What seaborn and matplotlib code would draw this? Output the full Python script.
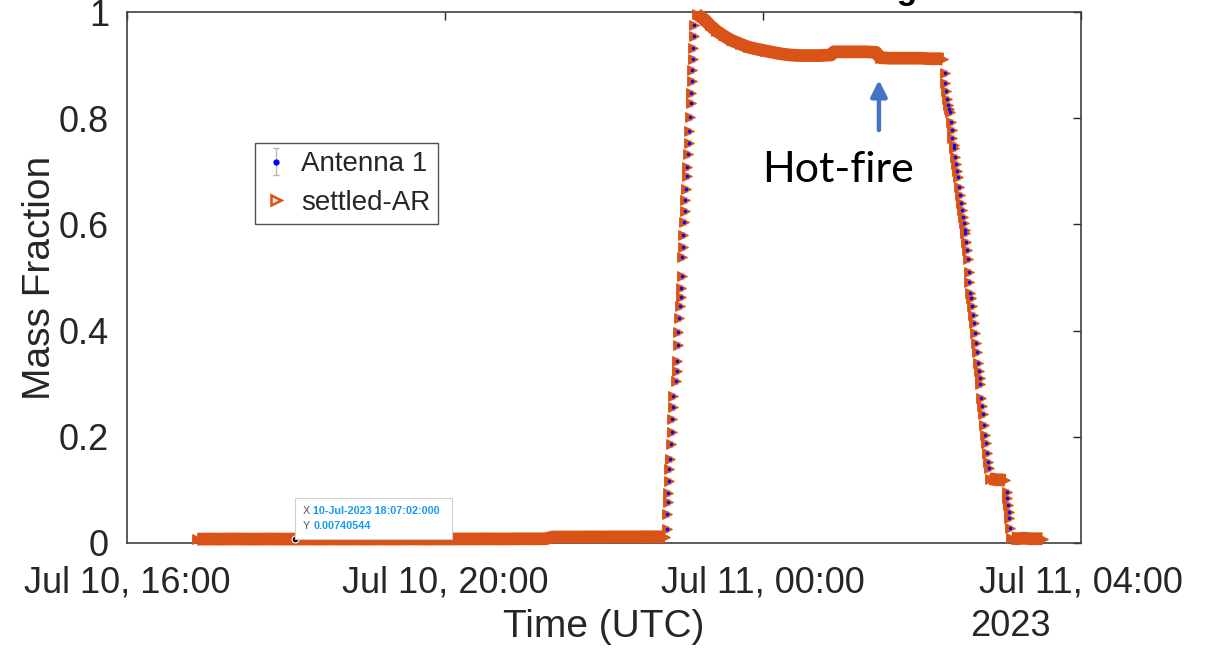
import numpy as np
import pandas as pd
import matplotlib
matplotlib.use("Agg")
import matplotlib.pyplot as plt
import matplotlib.dates as mdates
from matplotlib.patches import Rectangle
from matplotlib.lines import Line2D
import seaborn as sns

sns.set_theme(style="white")
plt.rcParams["font.family"] = ["Liberation Sans", "DejaVu Sans"]

ORANGE = "#D95319"
BLUE = "#0000FF"
AXIS_GREY = "#404040"

START = pd.Timestamp("2023-07-10 16:00:00")

# ---- readings, time in minutes after 10-Jul-2023 16:00 UTC ----
baseline_min = [53, 62, 71, 80, 89, 98, 107, 116, 127.033, 136, 145, 154, 163, 172,
                181, 190, 199, 208, 217, 226, 235, 244, 253, 262, 271, 280, 289, 298,
                307, 316, 321, 330, 340, 350, 360, 370, 380, 390, 400, 406]
baseline_val = [0.0072, 0.0075, 0.0073, 0.0076, 0.0074, 0.0073, 0.0075, 0.0074, 0.00740544,
                0.0075, 0.0073, 0.0076, 0.0074, 0.0075, 0.0073, 0.0076, 0.0074, 0.0075,
                0.0077, 0.0074, 0.0076, 0.0075, 0.0077, 0.0076, 0.0078, 0.0076, 0.0077,
                0.0079, 0.0078, 0.0080, 0.0112, 0.0114, 0.0113, 0.0115, 0.0114, 0.0116,
                0.0115, 0.0117, 0.0116, 0.0118]

fill_min = [407.2, 407.6, 408.1, 408.6, 409.0, 409.4, 409.9, 410.5, 411.1, 411.6, 412.0,
            412.4, 414.6, 415.0, 415.4, 415.8, 416.2, 416.7, 417.3, 417.8, 418.2, 418.6,
            419.0, 419.5, 419.9, 420.4, 421.0, 421.5, 421.9, 422.4, 422.8, 423.6, 424.0,
            424.4, 424.8, 425.4, 425.8, 426.3, 426.7, 427.1, 427.5, 427.9, 428.3]
fill_val = [0.026, 0.055, 0.077, 0.094, 0.117, 0.139, 0.158, 0.186, 0.209, 0.234, 0.256,
            0.277, 0.305, 0.324, 0.343, 0.373, 0.397, 0.424, 0.446, 0.463, 0.480, 0.503,
            0.539, 0.557, 0.580, 0.605, 0.625, 0.646, 0.667, 0.691, 0.708, 0.733, 0.753,
            0.776, 0.802, 0.829, 0.847, 0.870, 0.891, 0.911, 0.932, 0.955, 0.976]

full_min = [430.0, 436.2, 440.0, 444.5, 449.8, 455.8, 462.6, 468.7, 475.5, 481.5, 487.5,
            494.3, 500.4, 508.3, 515.5, 523.0, 531.3, 533.6, 541.9, 549.4, 557.7, 565.3,
            568.3, 575.8, 583.4, 590.9, 598.5, 606.0, 613.6, 616.0]
full_val = [0.996, 0.985, 0.975, 0.965, 0.956, 0.947, 0.940, 0.934, 0.930, 0.927, 0.924,
            0.921, 0.919, 0.918, 0.918, 0.918, 0.919, 0.925, 0.925, 0.925, 0.925, 0.924,
            0.914, 0.913, 0.913, 0.913, 0.913, 0.912, 0.912, 0.911]

drain_min = [617.0, 617.6, 618.2, 618.8, 619.6, 620.2, 620.8, 621.6, 622.3, 623.0, 623.8,
             624.3, 625.2, 625.9, 626.6, 627.3, 628.0, 628.7, 629.4, 630.1, 630.8, 631.5,
             632.2, 632.7, 633.5, 634.2, 634.9, 635.3, 635.7, 636.4, 637.1, 637.8, 638.5,
             639.2, 639.9, 640.6, 641.3, 642.0, 642.7, 643.4, 644.1, 644.8, 645.5, 646.2,
             646.9, 647.6, 648.3, 649.0, 649.7, 650.4]
drain_val = [0.885, 0.866, 0.851, 0.836, 0.824, 0.818, 0.812, 0.793, 0.778, 0.763, 0.750,
             0.744, 0.727, 0.714, 0.701, 0.689, 0.670, 0.655, 0.640, 0.627, 0.614, 0.603,
             0.590, 0.584, 0.567, 0.552, 0.535, 0.510, 0.492, 0.471, 0.461, 0.446, 0.429,
             0.414, 0.395, 0.377, 0.360, 0.339, 0.324, 0.311, 0.299, 0.273, 0.258, 0.243,
             0.222, 0.203, 0.188, 0.169, 0.153, 0.141]

hold_min = [651.0, 654.0, 657.0, 660.0, 663.0]
hold_val = [0.121, 0.120, 0.119, 0.119, 0.118]

drain2_min = [663.8, 664.3, 664.8, 665.3, 665.8, 666.3]
drain2_val = [0.096, 0.085, 0.072, 0.058, 0.047, 0.028]

empty_min = [667.5, 672.0, 677.0, 682.0, 687.0, 691.0]
empty_val = [0.009, 0.008, 0.009, 0.008, 0.008, 0.008]

x_tick_hours = [0, 4, 8, 12]
x_tick_labels = ["Jul 10, 16:00", "Jul 10, 20:00", "Jul 11, 00:00", "Jul 11, 04:00"]
y_ticks = [0, 0.2, 0.4, 0.6, 0.8, 1.0]
y_tick_labels = ["0", "0.2", "0.4", "0.6", "0.8", "1"]

tip_time = pd.Timestamp("2023-07-10 18:07:02")
tip_value = 0.00740544
hotfire_time = START + pd.Timedelta(minutes=567.5)

# ---- assemble tidy frame ----
phases = [
    ("baseline", baseline_min, baseline_val, True),
    ("fill", fill_min, fill_val, False),
    ("full", full_min, full_val, True),
    ("drain", drain_min, drain_val, False),
    ("hold", hold_min, hold_val, True),
    ("drain2", drain2_min, drain2_val, False),
    ("empty", empty_min, empty_val, True),
]
frames = []
for name, mins, vals, steady in phases:
    frames.append(pd.DataFrame({
        "time": START + pd.to_timedelta(np.asarray(mins, dtype=float), unit="m"),
        "value": vals,
        "phase": name,
        "steady": steady,
    }))
df = pd.concat(frames, ignore_index=True)
steady_df = df[df["steady"]]
antenna = df[~df["steady"]]

W, H = 1211, 649
fig = plt.figure(figsize=(W / 100, H / 100), dpi=100)
ax = fig.add_axes([127 / W, 106 / H, 954 / W, 531 / H])

# dense settled segments appear as a solid band
sns.lineplot(data=steady_df, x="time", y="value", units="phase", estimator=None,
             color=ORANGE, linewidth=9.2, solid_capstyle="butt", sort=False,
             ax=ax, legend=False, zorder=3, clip_on=False)

# Antenna 1 error bars
ax.errorbar(antenna["time"], antenna["value"], yerr=0.006, fmt="none",
            ecolor="#c4c4c4", elinewidth=0.8, capsize=1.5, zorder=2)

# settled-AR markers
sns.scatterplot(data=df, x="time", y="value", marker=">", s=48, color=ORANGE,
                edgecolor=ORANGE, linewidth=0.8, ax=ax, legend=False, zorder=4,
                clip_on=False)

# Antenna 1 points
sns.scatterplot(data=antenna, x="time", y="value", marker="o", s=6, color=BLUE,
                linewidth=0, ax=ax, legend=False, zorder=5)

ax.set_xlim(START, START + pd.Timedelta(hours=12))
ax.set_ylim(0, 1)
ax.set_xticks([START + pd.Timedelta(hours=h) for h in x_tick_hours])
ax.set_xticklabels(x_tick_labels)
ax.set_yticks(y_ticks)
ax.set_yticklabels(y_tick_labels)

ax.tick_params(axis="both", direction="in", length=6, width=1.0, colors="#262626",
               labelsize=26, top=True, right=True)
ax.tick_params(axis="x", pad=16)
ax.tick_params(axis="y", pad=13)
for sp in ax.spines.values():
    sp.set_color(AXIS_GREY)
    sp.set_linewidth(1.2)

ax.set_xlabel("Time (UTC)", fontsize=28, color="#262626")
ax.xaxis.set_label_coords(0.5, (543 - 627) / 531)
ax.xaxis.label.set_va("center")
ax.set_ylabel("Mass Fraction", fontsize=28, color="#262626")
ax.yaxis.set_label_coords((40 - 127) / 954, 0.5)
ax.yaxis.label.set_va("center")

fig.text(1010 / W, 1 - 627 / H, "2023", fontsize=26, color="#262626",
         ha="center", va="center")

# legend
eb_handle = ax.errorbar([START], [np.nan], yerr=[0.01], fmt="o", ms=3.5, color=BLUE,
                        ecolor="#b8b8b8", elinewidth=1, capsize=2)
ar_handle = Line2D([], [], marker=">", ls="none", ms=7, mfc="#fbe3d8", mec=ORANGE,
                   mew=1.8)
leg = ax.legend([eb_handle, ar_handle], ["Antenna 1", "settled-AR"],
                loc="upper left", bbox_to_anchor=(255 / W, 1 - 143 / H),
                bbox_transform=fig.transFigure, borderaxespad=0, fontsize=20,
                frameon=True, fancybox=False, handlelength=0.9, handletextpad=0.45,
                labelspacing=0.45, borderpad=0.3)
leg.get_frame().set_edgecolor("#262626")
leg.get_frame().set_linewidth(1.0)
leg.set_zorder(20)

# data tip
ax.plot([tip_time], [tip_value], marker="o", ms=5, mfc="#111111", mec="white",
        mew=0.8, zorder=12, clip_on=False)
fig.canvas.draw()
px, py = ax.transData.transform((mdates.date2num(tip_time), tip_value))
box = Rectangle((px / W, py / H), 157 / W, 41 / H, transform=fig.transFigure,
                facecolor="white", edgecolor="#cfcfcf", linewidth=0.8, zorder=11)
fig.add_artist(box)
tip_font = dict(fontsize=7.8, va="center", zorder=12)
fig.text((px + 7) / W, (py + 28) / H, "X", color="#555555", **tip_font)
fig.text((px + 18) / W, (py + 28) / H, "10-Jul-2023 18:07:02:000", color="#1a9bf0",
         fontweight="bold", **tip_font)
fig.text((px + 7) / W, (py + 13) / H, "Y", color="#555555", **tip_font)
fig.text((px + 18) / W, (py + 13) / H, f"{tip_value:.8f}".rstrip("0"), color="#1a9bf0",
         fontweight="bold", **tip_font)

# hot-fire marker
hx, _ = ax.transData.transform((mdates.date2num(hotfire_time), 0))
ax.annotate("", xy=(hx, H - 80), xytext=(hx, H - 130), xycoords="figure pixels",
            textcoords="figure pixels",
            arrowprops=dict(arrowstyle="-|>", color="#4472C4", lw=3.2,
                            mutation_scale=24, shrinkA=0, shrinkB=0))
fig.text(838 / W, 1 - 170 / H, "Hot-fire", fontsize=31, family=["Lato", "DejaVu Sans"],
         ha="center", va="center", color="black")

# figure title (runs off the top edge)
fig.text(917 / W, 1 + 1 / H, "Mass Fraction Measurement: Loading", fontsize=24,
         fontweight="bold", ha="right", va="baseline", color="black")

fig.savefig("out.png", dpi=100, facecolor="white")
